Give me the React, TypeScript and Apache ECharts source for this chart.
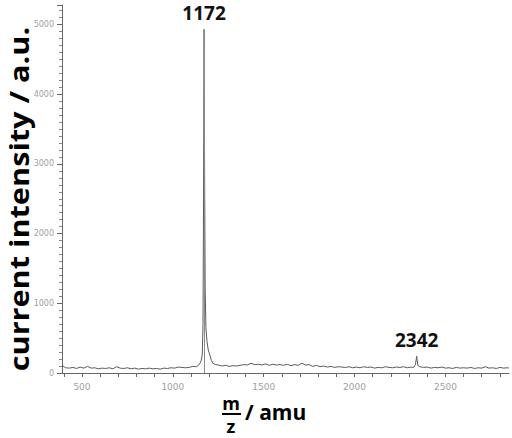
import React, { useEffect, useRef } from "react";
import * as echarts from "echarts";

// m/z (amu) sample positions and current intensity (a.u.)
const mz: number[] = [
  390, 410, 430, 450, 470, 490, 510, 530, 550, 570, 590, 610, 630, 650, 670, 690, 710, 730, 750, 770,
  790, 810, 830, 850, 870, 890, 910, 930, 950, 970, 990, 1010, 1030, 1050, 1070, 1090, 1110, 1130, 1145, 1155,
  1162, 1166, 1169, 1172, 1175, 1178, 1182, 1188, 1195, 1200, 1205, 1212, 1220, 1235, 1250, 1270, 1290, 1310, 1330, 1350,
  1370, 1390, 1410, 1430, 1450, 1470, 1490, 1510, 1530, 1550, 1570, 1590, 1610, 1630, 1650, 1670, 1690, 1710, 1730, 1750,
  1770, 1790, 1810, 1830, 1850, 1870, 1890, 1910, 1930, 1950, 1970, 1990, 2010, 2030, 2050, 2070, 2090, 2110, 2130, 2150,
  2170, 2190, 2210, 2230, 2250, 2270, 2290, 2310, 2325, 2335, 2342, 2348, 2360, 2380, 2400, 2420, 2440, 2460, 2480, 2500,
  2520, 2540, 2560, 2580, 2600, 2620, 2640, 2660, 2680, 2700, 2720, 2740, 2760, 2780, 2800, 2820, 2840, 2850,
];
const intensity: number[] = [
  110, 75, 70, 80, 65, 85, 70, 95, 70, 75, 60, 70, 65, 75, 60, 90, 70, 65, 75, 60,
  70, 55, 65, 60, 70, 60, 65, 55, 70, 65, 75, 70, 85, 80, 75, 80, 95, 90, 120, 170,
  260, 700, 2500, 4930, 2800, 1200, 650, 450, 330, 290, 250, 180, 140, 120, 115, 100, 110, 95, 105, 100,
  110, 120, 115, 140, 120, 125, 115, 130, 110, 125, 115, 120, 110, 125, 105, 120, 110, 140, 115, 120,
  95, 110, 90, 100, 85, 95, 80, 90, 85, 80, 90, 75, 85, 75, 90, 80, 85, 70, 80, 75,
  90, 80, 75, 85, 80, 90, 75, 85, 80, 120, 240, 110, 90, 80, 85, 70, 80, 75, 85, 70,
  75, 65, 80, 70, 75, 70, 80, 65, 75, 70, 90, 70, 75, 65, 80, 70, 75, 70,
];

// labelled peaks
const peakMz: number[] = [1172, 2342];
const peakIntensity: number[] = [4930, 240];

// axis ticks
const xLabelValues: number[] = [500, 1000, 1500, 2000, 2500];
const xTickValues: number[] = [
  400, 500, 600, 700, 800, 900, 1000, 1100, 1200, 1300, 1400, 1500, 1600, 1700, 1800, 1900, 2000,
  2100, 2200, 2300, 2400, 2500, 2600, 2700, 2800,
];
const yAxisTitle = "current intensity / a.u.";

export default function App() {
  const ref = useRef<HTMLDivElement>(null);

  useEffect(() => {
    if (!ref.current) return;
    document.body.style.margin = "0";
    const chart = echarts.init(ref.current, null, { renderer: "svg" });
    const data = mz.map((x, i) => [x, intensity[i]]);
    chart.setOption({
      animation: false,
      backgroundColor: "#ffffff",
      grid: { left: 62, right: 3, top: 5, bottom: 65 },
      xAxis: {
        type: "value",
        min: 390,
        max: 2850,
        axisLine: { show: true, lineStyle: { color: "#666", width: 1 } },
        axisTick: { show: true, customValues: xTickValues, length: 4, lineStyle: { color: "#666" } },
        axisLabel: {
          customValues: xLabelValues,
          color: "#a0a0a0",
          fontSize: 9,
          fontFamily: "DejaVu Sans",
          margin: 9,
          formatter: (v: number) => String(v),
        },
        splitLine: { show: false },
      },
      yAxis: {
        type: "value",
        min: 0,
        max: 5280,
        interval: 1000,
        axisLine: { show: true, lineStyle: { color: "#666", width: 1 } },
        axisTick: { show: true, length: 5, lineStyle: { color: "#666" } },
        minorTick: { show: true, splitNumber: 10, length: 3, lineStyle: { color: "#888" } },
        axisLabel: {
          color: "#a0a0a0",
          fontSize: 8,
          fontFamily: "DejaVu Sans",
          margin: 8,
          showMaxLabel: false,
          formatter: (v: number) => (v % 1000 === 0 ? String(v) : ""),
        },
        splitLine: { show: false },
      },
      series: [
        {
          type: "line",
          data,
          symbol: "none",
          lineStyle: { color: "#5a5a5a", width: 1 },
          markLine: {
            silent: true,
            symbol: "none",
            label: { show: false },
            lineStyle: { color: "#8a8a8a", width: 1, type: "solid" },
            data: [[{ coord: [peakMz[0], 0] }, { coord: [peakMz[0], peakIntensity[0]] }]],
          },
          markPoint: {
            symbol: "circle",
            symbolSize: 0,
            label: {
              show: true,
              position: "top",
              distance: 7,
              color: "#111",
              fontSize: 19,
              fontWeight: "bold",
              fontFamily: "Open Sans",
              formatter: (p: any) => String(p.data.name),
            },
            data: peakMz.map((x, i) => ({ name: String(x), coord: [x, peakIntensity[i]] })),
          },
        },
      ],
      graphic: [
        {
          type: "text",
          x: 19,
          y: 199,
          rotation: Math.PI / 2,
          scaleX: 1.18,
          style: {
            text: yAxisTitle,
            fill: "#000",
            font: "bold 26px 'Open Sans'",
            align: "center",
            verticalAlign: "middle",
          },
        },
        {
          type: "text",
          x: 231,
          y: 403,
          style: { text: "m", fill: "#000", font: "bold 18px 'Open Sans'", align: "center", verticalAlign: "middle" },
        },
        {
          type: "line",
          shape: { x1: 222, y1: 414, x2: 241, y2: 414 },
          style: { stroke: "#000", lineWidth: 2 },
        },
        {
          type: "text",
          x: 231,
          y: 426,
          style: { text: "z", fill: "#000", font: "bold 18px 'Open Sans'", align: "center", verticalAlign: "middle" },
        },
        {
          type: "text",
          x: 245,
          y: 412,
          style: { text: "/ amu", fill: "#000", font: "bold 21px 'Open Sans'", align: "left", verticalAlign: "middle" },
        },
      ],
    });
    return () => chart.dispose();
  }, []);

  return <div ref={ref} style={{ width: 512, height: 438 }} />;
}
